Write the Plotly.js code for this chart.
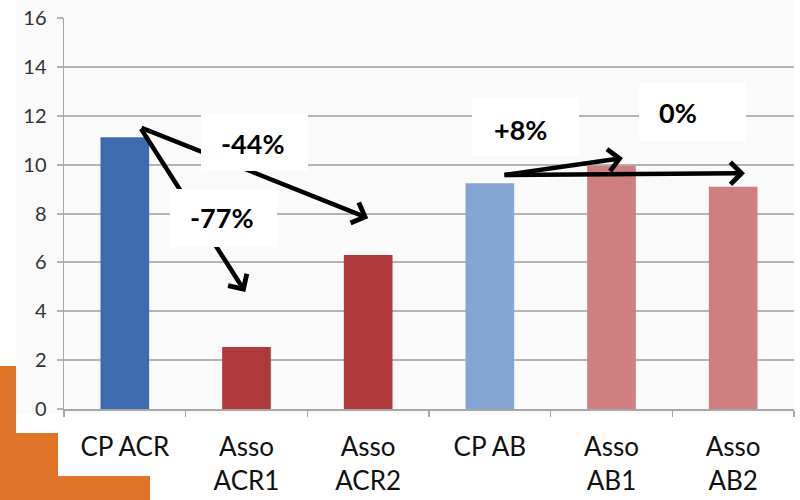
<!DOCTYPE html>
<html>
<head>
<meta charset="utf-8">
<script src="https://cdn.plot.ly/plotly-3.0.1.min.js"></script>
<style>html,body{margin:0;padding:0;background:#fff;}#chart{width:800px;height:500px;}</style>
</head>
<body>
<div id="chart"></div>
<script>
const categories = ["CP ACR", "Asso ACR1", "Asso ACR2", "CP AB", "Asso AB1", "Asso AB2"];
const tickLabels = ["CP ACR", "Asso<br>ACR1", "Asso<br>ACR2", "CP AB", "Asso<br>AB1", "Asso<br>AB2"];
const values = [11.12, 2.54, 6.3, 9.24, 9.95, 9.09];
const barColors = ["#3e6baf", "#b0393c", "#b0393c", "#85a5d3", "#cf7f7f", "#cf7f7f"];
const yTicks = [0, 2, 4, 6, 8, 10, 12, 14, 16];
const changeLabels = ["-44%", "-77%", "+8%", "0%"];

const trace = {
  type: "bar",
  x: categories,
  y: values,
  marker: { color: barColors, line: { width: 0 } },
  width: 0.4,
  hoverinfo: "skip"
};

// arrows: [tailX, tailY, headX, headY]
const arrows = [
  [0.125, 11.53, 2.0, 7.81],
  [0.125, 11.53, 0.99, 4.79],
  [3.108, 9.57, 4.094, 10.27],
  [3.108, 9.57, 5.097, 9.65]
];
const boxes = [
  [1.062, 10.92],
  [0.811, 7.83],
  [3.293, 11.55],
  [4.666, 12.17]
];
const textPos = [
  [1.05, 10.88],
  [0.80, 7.85],
  [3.25, 11.45],
  [4.55, 12.12]
];

const annotations = [];
arrows.forEach(a => {
  annotations.push({
    x: a[2], y: a[3], ax: a[0], ay: a[1],
    xref: "x", yref: "y", axref: "x", ayref: "y",
    text: "", showarrow: true, arrowhead: 4, arrowsize: 0.95,
    arrowwidth: 4.5, arrowcolor: "#000000", standoff: 0, startstandoff: 0
  });
});
boxes.forEach(b => {
  annotations.push({
    x: b[0], y: b[1], xref: "x", yref: "y",
    text: "&nbsp;", showarrow: false, width: 107, height: 58,
    bgcolor: "#ffffff", borderpad: 0, borderwidth: 0,
    xanchor: "center", yanchor: "middle"
  });
});
textPos.forEach((p, i) => {
  annotations.push({
    x: p[0], y: p[1], xref: "x", yref: "y",
    text: "<b>" + changeLabels[i] + "</b>", showarrow: false,
    font: { family: "Lato, 'Open Sans', sans-serif", size: 27, color: "#000000" },
    xanchor: "center", yanchor: "middle"
  });
});

const shapes = [
  { type: "rect", xref: "paper", yref: "paper", x0: -48/730, x1: 731/730, y0: -5/391, y1: 409/391 + 0.1,
    fillcolor: "#fafafa", line: { width: 0 }, layer: "below" },
  { type: "rect", xref: "paper", yref: "paper", x0: -6/730, x1: 736/730, y0: -91/391, y1: -5/391,
    fillcolor: "#ffffff", line: { width: 0 }, layer: "below" },
  { type: "path", xref: "paper", yref: "paper",
    path: "M " + (-64/730) + " " + (-91/391) +
          " L " + (-64/730) + " " + (43/391) +
          " L " + (-48/730) + " " + (43/391) +
          " L " + (-48/730) + " " + (-24/391) +
          " L " + (-6/730) + " " + (-24/391) +
          " L " + (-6/730) + " " + (-67/391) +
          " L " + (86/730) + " " + (-67/391) +
          " L " + (86/730) + " " + (-91/391) + " Z",
    fillcolor: "#e07428", line: { width: 0 }, layer: "above" }
];

const layout = {
  width: 800, height: 500,
  margin: { l: 64, r: 6, t: 18, b: 91, pad: 0 },
  paper_bgcolor: "#ffffff",
  plot_bgcolor: "rgba(0,0,0,0)",
  showlegend: false,
  bargap: 0.6,
  xaxis: {
    type: "category",
    range: [-0.5, 5.5],
    tickmode: "array", tickvals: categories, ticktext: tickLabels,
    tickson: "boundaries", ticks: "outside", ticklen: 6, tickcolor: "#a8a8a8", tickwidth: 1.5,
    showline: true, linecolor: "#a8a8a8", linewidth: 2,
    showgrid: false, zeroline: false,
    tickfont: { family: "Lato, 'Open Sans', sans-serif", size: 26, color: "#111111" },
    ticklabelstandoff: 14
  },
  yaxis: {
    range: [0, 16],
    tickmode: "array", tickvals: yTicks, ticktext: yTicks.map(String),
    ticks: "outside", ticklen: 6, tickcolor: "#b4b4b4", tickwidth: 2,
    showline: true, linecolor: "#a8a8a8", linewidth: 1.5,
    showgrid: true, gridcolor: "#b4b4b4", gridwidth: 2,
    zeroline: false,
    tickfont: { family: "Lato, 'Open Sans', sans-serif", size: 20, color: "#333333" },
    ticklabelstandoff: 6
  },
  shapes: shapes,
  annotations: annotations
};

Plotly.newPlot("chart", [trace], layout, { displayModeBar: false, staticPlot: true });
</script>
</body>
</html>
